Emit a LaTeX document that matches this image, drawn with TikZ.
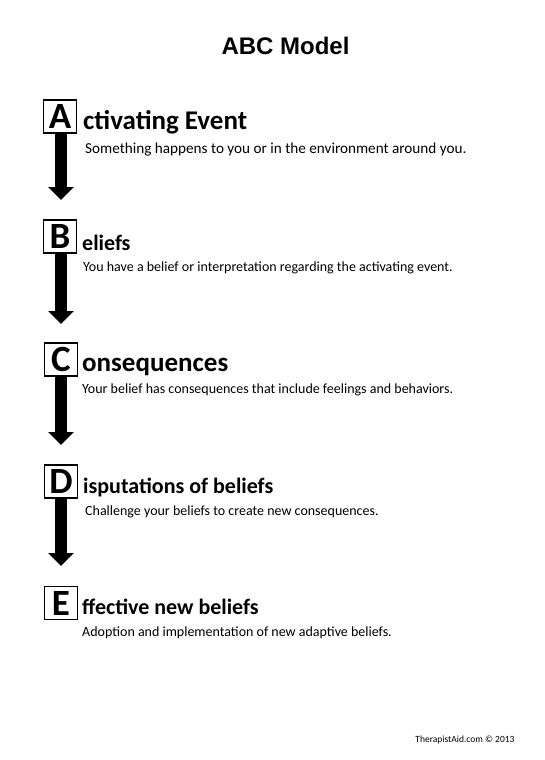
\documentclass[tikz,border=0pt]{standalone}
\usepackage{fontspec}
\setmainfont{Carlito}
\newfontfamily\titlefont{Liberation Sans}
\usetikzlibrary{arrows.meta,positioning}
\tikzset{
  letterbox/.style={draw,line width=1.4pt,minimum size=33pt,inner sep=0pt,
    font={\fontsize{37}{37}\selectfont\bfseries}},
  heading/.style={anchor=base west,inner sep=0pt,font={\fontsize{#1}{#1}\selectfont\bfseries}},
  heading/.default=22,
  descr/.style={anchor=base west,inner sep=0pt,font={\fontsize{#1}{#1}\selectfont}},
  descr/.default=14,
  downarrow/.style={line width=12pt,-{Triangle[width=25pt,length=13pt]}}
}
\begin{document}
\begin{tikzpicture}[x=1pt,y=-1pt]
	\useasboundingbox (0,0) rectangle (545,760);

	\node[anchor=base,font={\titlefont\bfseries\fontsize{24}{24}\selectfont}] (title) at (285.5,55) {ABC Model};

	% letter boxes
	\node[letterbox] (boxA) at (60,116.5) {A};
	\node[letterbox] (boxB) at (60,236.5) {B};
	\node[letterbox] (boxC) at (61,359.5) {C};
	\node[letterbox] (boxD) at (61,481.5) {D};
	\node[letterbox] (boxE) at (61,603) {E};

	% headings
	\node[heading=27] (headA) at (83,129) {ctivating Event};
	\node[heading] (headB) at (82,250) {eliefs};
	\node[heading=27] (headC) at (82,371) {onsequences};
	\node[heading] (headD) at (83,493) {isputations of beliefs};
	\node[heading] (headE) at (82,614) {ffective new beliefs};

	\node[descr=15.2] (textA) at (85,153) {Something happens to you or in the environment around you.};
	\node[descr] (textB) at (83,271) {You have a belief or interpretation regarding the activating event.};
	\node[descr] (textC) at (82,393) {Your belief has consequences that include feelings and behaviors.};
	\node[descr] (textD) at (85,515) {Challenge your beliefs to create new consequences.};
	\node[descr] (textE) at (82,636) {Adoption and implementation of new adaptive beliefs.};

	% arrows
	\coordinate (tipA) at (61,200);
	\coordinate (tipB) at (61,324);
	\coordinate (tipC) at (61,445);
	\coordinate (tipD) at (61,566);
	\draw[downarrow] (boxA.south -| tipA) -- (tipA);
	\draw[downarrow] (boxB.south -| tipB) -- (tipB);
	\draw[downarrow] (boxC.south -| tipC) -- (tipC);
	\draw[downarrow] (boxD.south -| tipD) -- (tipD);

	\node[anchor=base east,font={\fontsize{9.5}{9.5}\selectfont}] (credit) at (518,742) {TherapistAid.com © 2013};
\end{tikzpicture}
\end{document}
